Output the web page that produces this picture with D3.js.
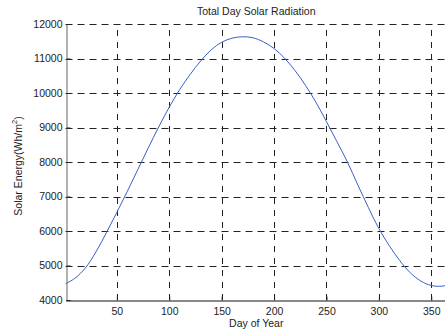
<!DOCTYPE html>
<html>
<head>
<meta charset="utf-8">
<script src="https://cdn.jsdelivr.net/npm/d3@7"></script>
<style>
  body { margin: 0; background: #fff; overflow: hidden; }
  text { font-family: "Liberation Sans", Arial, sans-serif; fill: #222; }
</style>
</head>
<body>
<div id="container"></div>
<script>
const width = 445,
  height = 332,
  margin = { top: 24, bottom: 32, left: 65.5, right: -2 };

// day of year
const days = [1, 10, 20, 30, 40, 50, 60, 70, 80, 90, 100, 110, 120, 130, 140, 150, 160, 170,
  180, 190, 200, 210, 220, 230, 240, 250, 260, 270, 280, 290, 300, 310, 320, 330, 340, 350, 360, 365];
// solar energy, Wh/m^2
const energy = [4470, 4630, 4930, 5390, 5950, 6540, 7150, 7780, 8410, 9020, 9590, 10100, 10540, 10930,
  11250, 11470, 11590, 11630, 11600, 11480, 11290, 11010, 10650, 10220, 9730, 9170, 8590, 8000, 7330,
  6680, 6070, 5570, 5140, 4790, 4550, 4420, 4400, 4430];

const xTicks = [50, 100, 150, 200, 250, 300, 350];
const yTicks = [4000, 5000, 6000, 7000, 8000, 9000, 10000, 11000, 12000];

const data = days.map((d, i) => ({ day: d, value: energy[i] }));

const svg = d3.select("#container")
  .append("svg")
  .attr("width", width)
  .attr("height", height);

const xScale = d3.scaleLinear()
  .domain([1, 365])
  .range([margin.left, width - margin.right]);

const yScale = d3.scaleLinear()
  .domain([4000, 12000])
  .range([height - margin.bottom, margin.top]);

// grid
svg.append("g")
  .selectAll("line")
  .data(yTicks.slice(1))
  .join("line")
  .attr("x1", margin.left)
  .attr("x2", width)
  .attr("y1", d => Math.round(yScale(d)) + 0.5)
  .attr("y2", d => Math.round(yScale(d)) + 0.5)
  .attr("stroke", "#222")
  .attr("stroke-dasharray", "7,5");

svg.append("g")
  .selectAll("line")
  .data(xTicks)
  .join("line")
  .attr("x1", d => Math.round(xScale(d)) + 0.5)
  .attr("x2", d => Math.round(xScale(d)) + 0.5)
  .attr("y1", yScale(4000))
  .attr("y2", yScale(12000))
  .attr("stroke", "#222")
  .attr("stroke-dasharray", "6,6");

// axes
const xAxis = d3.axisBottom(xScale).tickValues(xTicks).tickSizeInner(-4).tickSizeOuter(0).tickPadding(7)
  .tickFormat(d3.format("d"));
const yAxis = d3.axisLeft(yScale).tickValues(yTicks).tickSizeInner(-4).tickSizeOuter(0).tickPadding(4)
  .tickFormat(d3.format("d"));

const xAxisGroup = svg.append("g")
  .attr("transform", `translate(0, ${Math.round(yScale(4000)) + 0.5})`)
  .call(xAxis);
xAxisGroup.select(".domain").attr("stroke", "#111");

const yAxisGroup = svg.append("g")
  .attr("transform", `translate(${Math.round(margin.left) + 0.5}, 0)`)
  .call(yAxis);
yAxisGroup.select(".domain").attr("stroke", "#666");

svg.selectAll(".tick text")
  .attr("font-size", "10.5px")
  .attr("font-family", "Liberation Sans, Arial, sans-serif")
  .attr("fill", "#222");
svg.selectAll(".tick line").attr("stroke", "#222");

// line
const lineGen = d3.line()
  .x(d => xScale(d.day))
  .y(d => yScale(d.value))
  .curve(d3.curveCatmullRom);

svg.append("path")
  .datum(data)
  .attr("fill", "none")
  .attr("stroke", "#3a5fc8")
  .attr("stroke-width", 1)
  .attr("d", lineGen);

// labels
const cx = (xScale.range()[0] + xScale.range()[1]) / 2;

svg.append("text")
  .attr("x", cx)
  .attr("y", 15)
  .attr("text-anchor", "middle")
  .attr("font-size", "10.5px")
  .text("Total Day Solar Radiation");

svg.append("text")
  .attr("x", cx)
  .attr("y", 327)
  .attr("text-anchor", "middle")
  .attr("font-size", "10.5px")
  .text("Day of Year");

const yLabel = svg.append("text")
  .attr("transform", `translate(22, ${(yScale.range()[0] + yScale.range()[1]) / 2 + 4}) rotate(-90)`)
  .attr("text-anchor", "middle")
  .attr("font-size", "10.5px");
yLabel.append("tspan").text("Solar Energy(Wh/m");
yLabel.append("tspan").attr("dy", -5).attr("font-size", "7.5px").text("2");
yLabel.append("tspan").attr("dy", 5).text(")");
</script>
</body>
</html>
